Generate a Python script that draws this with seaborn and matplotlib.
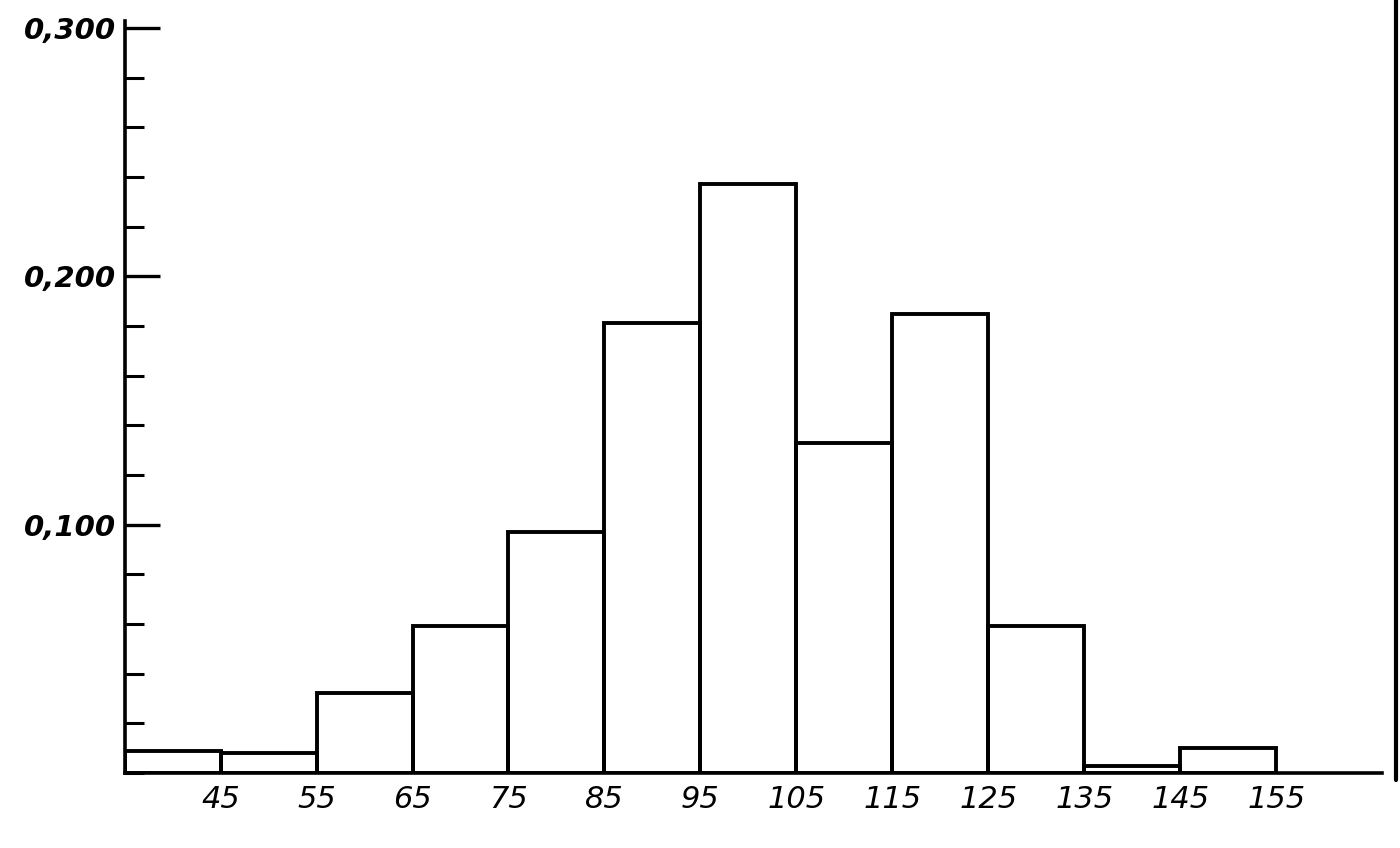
import matplotlib.pyplot as plt
import matplotlib.ticker as mticker
import seaborn as sns

# bin edges and relative frequencies
bin_edges = [35, 45, 55, 65, 75, 85, 95, 105, 115, 125, 135, 145, 155]
freq = [0.009, 0.008, 0.032, 0.059, 0.097, 0.181, 0.237, 0.133, 0.185, 0.059, 0.003, 0.010]
x_ticks = [45, 55, 65, 75, 85, 95, 105, 115, 125, 135, 145, 155]
y_ticks = [0.1, 0.2, 0.3]
y_labels = ["0,100", "0,200", "0,300"]

centers = [(a + b) / 2 for a, b in zip(bin_edges[:-1], bin_edges[1:])]

sns.set_theme(style="white")
plt.rcParams["font.family"] = ["DejaVu Sans"]

fig = plt.figure(figsize=(14, 8.48), dpi=100)
ax = fig.add_axes([0.089, 0.0885, 0.898, 0.8785 * 0.303 / 0.3])

sns.histplot(x=centers, weights=freq, bins=bin_edges, stat="count",
             fill=False, element="bars", color="black", linewidth=2.8, ax=ax)

ax.set_xlim(35, 166)
ax.set_ylim(0, 0.303)

ax.set_xticks(x_ticks)
ax.set_xticklabels([str(t) for t in x_ticks], fontsize=22, style="italic")
ax.tick_params(axis="x", length=0, pad=9, colors="black")

ax.set_yticks(y_ticks)
ax.set_yticklabels(y_labels, fontsize=21, style="italic", weight="bold")
ax.yaxis.set_minor_locator(mticker.MultipleLocator(0.02))
ax.tick_params(axis="y", which="major", direction="in", length=25, width=2.4,
               pad=6, colors="black", left=True)
ax.tick_params(axis="y", which="minor", direction="in", length=14, width=2.2,
               colors="black", left=True)

for side in ["top", "right"]:
    ax.spines[side].set_visible(False)
for side in ["left", "bottom"]:
    ax.spines[side].set_linewidth(2.6)
    ax.spines[side].set_color("black")

ax.set_xlabel("")
ax.set_ylabel("")

# dark edge of the scanned page on the right
fig.add_artist(plt.Line2D([0.997, 0.997], [0.08, 1.0], transform=fig.transFigure,
                          color="black", linewidth=3))

plt.savefig("out.png", dpi=100, facecolor="white")
